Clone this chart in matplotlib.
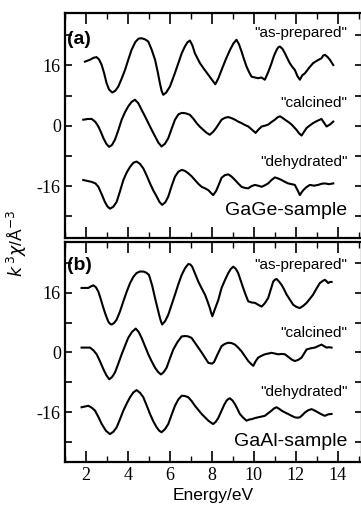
import matplotlib
matplotlib.use("Agg")
import matplotlib.pyplot as plt
from matplotlib.ticker import MultipleLocator, FixedLocator

# ---------------- data ----------------
# Panel (a) GaGe-sample
a_prep_x = [1.95, 2.19, 2.35, 2.5, 2.62, 2.75, 2.87, 2.98, 3.1, 3.25, 3.4, 3.54, 3.7, 3.86, 4.02, 4.17, 4.35, 4.5,
            4.65, 4.82, 4.97, 5.12, 5.29, 5.42, 5.52, 5.6, 5.68, 5.82, 6.0, 6.2, 6.4, 6.56, 6.71, 6.83, 6.95, 7.07,
            7.19, 7.43, 7.63, 7.83, 8.0, 8.16, 8.3, 8.46, 8.66, 8.86, 9.02, 9.17, 9.29, 9.41, 9.53, 9.65, 9.77,
            9.89, 10.05, 10.2, 10.36, 10.52, 10.68, 10.84, 10.96, 11.08, 11.16, 11.24, 11.36, 11.48, 11.6, 11.71,
            11.83, 11.95, 12.07, 12.19, 12.31, 12.43, 12.62, 12.82, 13.02, 13.22, 13.3, 13.38, 13.5, 13.62, 13.7,
            13.78]
a_prep_y = [17.0, 17.5, 18.0, 18.2, 17.6, 16.1, 13.8, 11.3, 9.6, 8.8, 9.3, 10.4, 12.5, 14.8, 17.6, 20.1, 22.2, 23.1,
            23.2, 22.9, 22.3, 20.3, 17.5, 14.2, 11.3, 9.3, 8.2, 8.8, 10.4, 13.4, 16.6, 19.2, 21.0, 22.1, 22.6, 21.3,
            19.2, 16.6, 15.0, 13.5, 12.2, 11.0, 12.5, 14.8, 17.6, 20.1, 21.8, 22.8, 21.6, 19.7, 17.6, 15.7, 14.2,
            13.0, 12.8, 12.6, 12.8, 12.2, 14.2, 16.6, 18.6, 20.1, 20.8, 21.0, 20.4, 19.2, 17.8, 16.6,
            15.6, 14.8, 13.2, 12.2, 13.4, 13.9, 15.3, 16.6, 17.3, 17.9, 18.6, 18.8, 18.3, 17.5, 16.8,
            16.1]

a_calc_x = [1.87, 2.1, 2.27, 2.45, 2.59, 2.72, 2.83, 2.97, 3.1, 3.24, 3.38, 3.54, 3.7, 3.86, 4.01, 4.17, 4.33, 4.49,
            4.65, 4.81, 4.97, 5.13, 5.29, 5.45, 5.6, 5.76, 5.92, 6.08, 6.24, 6.4, 6.56, 6.75, 6.95, 7.11, 7.27, 7.43,
            7.59, 7.75, 7.9, 8.06, 8.2, 8.46, 8.62, 8.78, 8.94, 9.1, 9.25, 9.41, 9.57, 9.73, 9.9, 10.08, 10.22,
            10.37, 10.52, 10.68, 10.84, 11.0, 11.12, 11.24, 11.36, 11.48, 11.64, 11.8, 12.03, 12.15, 12.27, 12.39,
            12.51, 12.67, 12.82, 13.02, 13.22, 13.34, 13.46, 13.62, 13.78]
a_calc_y = [1.6, 1.8, 1.8, 1.0, -0.2, -1.8, -3.3, -4.8, -5.6, -5.1, -3.7, -1.2, 1.6, 3.6, 5.1, 6.3, 6.9, 6.0,
            4.2, 2.5, 0.7, -1.1, -2.8, -4.5, -5.5, -4.8, -3.3, -0.8, 1.6, 3.0, 3.4, 3.3, 2.9, 1.9, 0.7, -0.3,
            -1.1, -1.9, -2.4, -1.6, -0.6, 1.6, 2.1, 2.3, 2.0, 1.6, 1.1, 0.7, 0.2, -0.2, -1.0, -1.9, -1.0,
            -0.2, 0.0, 0.3, 1.0, 1.6, 2.2, 2.5, 2.1, 1.6, 1.0, 0.3, -1.1, -2.0, -2.6, -1.6,
            -0.6, 0.1, 0.7, 1.3, 1.8, 0.8, -0.2, 0.3, 1.1]

a_dehy_x = [1.87, 2.27, 2.45, 2.59, 2.75, 2.9, 3.02, 3.14, 3.3, 3.46, 3.62, 3.78, 3.94, 4.1, 4.26, 4.41, 4.57, 4.73,
            4.89, 5.05, 5.21, 5.37, 5.5, 5.63, 5.78, 5.92, 6.08, 6.24, 6.4, 6.56, 6.72, 6.87, 7.03, 7.19, 7.35,
            7.51, 7.67, 7.83, 7.95, 8.06, 8.2, 8.33, 8.46, 8.62, 8.78, 8.94, 9.1, 9.25, 9.41, 9.57, 9.73, 9.89,
            10.05, 10.2, 10.37, 10.52, 10.68, 10.84, 11.0, 11.16, 11.32, 11.48, 11.63, 11.8, 11.95, 12.07, 12.19,
            12.27, 12.35, 12.5, 12.67, 12.86, 13.06, 13.22, 13.38, 13.58, 13.78]
a_dehy_y = [-14.4, -14.9, -15.3, -16.2, -18.2, -20.2, -21.4, -22.0, -21.5, -20.2, -17.4, -14.4, -12.4, -10.9, -9.8,
            -9.5, -10.1, -11.3, -13.2, -15.3, -17.2, -18.8, -20.2, -21.0, -20.3, -18.8, -16.0, -13.5, -12.2, -11.7,
            -12.0, -12.6, -13.4, -14.4, -15.4, -16.2, -16.6, -17.1, -17.8, -18.4, -17.3, -15.6, -13.8, -13.1,
            -12.9, -13.5, -14.4, -15.3, -16.2, -16.5, -16.6, -16.0, -15.7, -15.9, -16.2, -15.8, -15.3, -14.4,
            -13.7, -14.0, -14.4, -14.9, -15.3, -15.5, -15.7, -17.0, -18.4, -17.7, -17.1, -16.3, -15.7, -15.9,
            -15.7, -15.4, -15.3, -15.5, -15.3]

# Panel (b) GaAl-sample
b_prep_x = [1.79, 2.11, 2.23, 2.35, 2.47, 2.59, 2.71, 2.83, 2.95, 3.06, 3.14, 3.22, 3.34, 3.46, 3.62, 3.78, 3.94, 4.1,
            4.26, 4.41, 4.57, 4.73, 4.87, 5.0, 5.15, 5.29, 5.41, 5.52, 5.58, 5.63, 5.77, 5.92, 6.08, 6.24, 6.4, 6.56,
            6.72, 6.87, 6.97, 7.06, 7.2, 7.35, 7.51, 7.67, 7.79, 7.9, 7.96, 8.02, 8.14, 8.3, 8.46, 8.62, 8.78, 8.9,
            9.02, 9.14, 9.25, 9.37, 9.49, 9.61, 9.73, 9.89, 10.05, 10.2, 10.37, 10.52, 10.68, 10.8, 10.92, 11.0,
            11.08, 11.2, 11.32, 11.44, 11.56, 11.72, 11.87, 12.03, 12.19, 12.35, 12.51, 12.67, 12.82, 12.98, 13.14,
            13.26, 13.38, 13.46, 13.54, 13.62, 13.7]
b_prep_y = [17.3, 17.3, 17.7, 18.0, 17.5, 16.3, 14.2, 11.9, 9.9, 8.3, 7.7, 7.5, 7.9, 8.8, 11.0, 13.7, 16.3, 18.6,
            20.3, 21.3, 21.7, 21.7, 21.4, 20.8, 18.0, 14.6, 11.8, 9.3, 8.2, 7.5, 8.4, 10.1, 12.8, 15.5, 18.3, 20.8,
            22.6, 23.7, 23.6, 23.0, 21.1, 19.0, 17.2, 15.5, 13.7, 11.9, 10.7, 9.7, 11.6, 14.0, 17.3, 19.4, 21.3, 22.4,
            23.0, 22.4, 21.3, 19.3, 17.3, 15.4, 13.7, 13.4, 13.3, 12.8, 12.3, 13.2, 14.6, 16.8, 19.0, 19.5,
            19.7, 19.0, 18.1, 16.9, 15.5, 14.1, 12.8, 12.2, 11.9, 12.5, 13.3, 14.4, 15.5, 17.1, 18.6,
            19.1, 19.5, 19.1, 18.6, 18.9, 18.9]

b_calc_x = [1.79, 2.0, 2.19, 2.35, 2.51, 2.67, 2.83, 2.97, 3.11, 3.24, 3.38, 3.54, 3.7, 3.86, 4.01, 4.19, 4.37, 4.51,
            4.65, 4.81, 4.97, 5.13, 5.29, 5.43, 5.57, 5.7, 5.84, 6.0, 6.16, 6.36, 6.56, 6.72, 6.87, 7.03, 7.19, 7.35,
            7.51, 7.67, 7.83, 8.0, 8.1, 8.26, 8.46, 8.62, 8.78, 8.94, 9.1, 9.25, 9.41, 9.57, 9.73, 9.85, 9.97, 10.08,
            10.2, 10.36, 10.52, 10.68, 10.84, 11.0, 11.16, 11.32, 11.48, 11.64, 11.8, 11.95, 12.11, 12.27, 12.39,
            12.51, 12.7, 12.9, 13.06, 13.22, 13.34, 13.46, 13.58, 13.7]
b_calc_y = [1.3, 1.3, 1.3, 0.6, -0.5, -2.4, -4.5, -6.1, -7.2, -6.6, -5.4, -3.0, -0.5, 1.8, 3.9, 5.5, 6.4, 5.5,
            3.9, 1.7, -0.5, -2.4, -4.1, -5.2, -5.9, -5.3, -4.1, -1.6, 0.8, 2.8, 4.3, 4.4, 4.3, 3.9, 2.6, 1.3,
            0.0, -1.4, -2.8, -3.0, -2.6, -0.6, 1.7, 2.3, 2.6, 2.5, 2.1, 1.3, 0.3, -1.0, -2.3, -3.0, -3.6, -2.4,
            -1.4, -0.9, -0.5, -0.3, -0.1, -0.3, -0.5, -0.4, -0.5, -1.2, -1.9, -2.3, -2.0, -1.4, -0.3,
            0.8, 1.1, 1.3, 1.7, 2.1, 1.7, 1.3, 1.4, 1.3]

b_dehy_x = [1.79, 2.11, 2.27, 2.43, 2.59, 2.75, 2.95, 3.14, 3.3, 3.46, 3.62, 3.78, 3.94, 4.1, 4.26, 4.41, 4.57, 4.73,
            4.89, 5.05, 5.21, 5.37, 5.49, 5.6, 5.76, 5.92, 6.08, 6.24, 6.4, 6.56, 6.72, 6.87, 7.03, 7.19, 7.35, 7.51,
            7.67, 7.83, 7.95, 8.06, 8.18, 8.3, 8.46, 8.58, 8.7, 8.78, 8.86, 8.98, 9.1, 9.22, 9.33, 9.49, 9.65, 9.77,
            9.89, 10.05, 10.2, 10.36, 10.52, 10.68, 10.84, 10.96, 11.08, 11.2, 11.32, 11.48, 11.63, 11.8, 11.95,
            12.07, 12.19, 12.31, 12.43, 12.59, 12.75, 12.9, 13.06, 13.22, 13.38, 13.54, 13.7]
b_dehy_y = [-14.7, -14.3, -14.8, -15.6, -17.3, -19.2, -21.0, -21.9, -21.3, -20.1, -17.9, -15.6, -13.7, -12.0, -10.7,
            -10.1, -10.8, -12.0, -14.2, -16.5, -18.5, -20.1, -21.0, -21.4, -20.6, -19.2, -16.7, -14.3, -12.6, -11.6,
            -11.7, -12.0, -13.0, -14.3, -15.4, -16.5, -17.4, -18.3, -18.8, -19.2, -18.6, -17.6, -15.6, -14.1, -12.9,
            -12.5, -12.3, -12.9, -13.9, -15.2, -16.5, -17.5, -18.3, -18.0, -17.9, -17.6, -17.4, -17.2, -17.0,
            -16.3, -15.6, -15.0, -14.7, -15.1, -15.6, -16.1, -16.5, -17.0, -17.4, -17.5, -17.4, -16.8, -16.1,
            -15.5, -15.2, -15.6, -16.1, -16.6, -17.0, -16.6, -16.5]

curve_labels = ['"as-prepared"', '"calcined"', '"dehydrated"']
label_y_a = [24.7, 6.0, -9.7]
label_y_b = [23.4, 5.2, -10.6]
sample_names = ["GaGe-sample", "GaAl-sample"]
panel_tags = ["(a)", "(b)"]
y_major = [-16, 0, 16]
y_minor = [-24, -8, 8, 24]
x_major = [2, 4, 6, 8, 10, 12, 14]

# ---------------- figure ----------------
W, H = 361, 518
fig = plt.figure(figsize=(W / 100, H / 100), dpi=100)

def px_axes(left, top, right, bottom):
    return fig.add_axes([left / W, 1 - bottom / H, (right - left) / W, (bottom - top) / H])

ax_a = px_axes(65, 13, 362, 237.7)
ax_b = px_axes(65, 241.7, 362, 461.7)

serif = "Liberation Serif"
sans = "Liberation Sans"

panels = [
    (ax_a, [(a_prep_x, a_prep_y), (a_calc_x, a_calc_y), (a_dehy_x, a_dehy_y)], label_y_a, (-29.7, 29.9), -22.4, 23.0),
    (ax_b, [(b_prep_x, b_prep_y), (b_calc_x, b_calc_y), (b_dehy_x, b_dehy_y)], label_y_b, (-29.3, 29.7), -24.0, 23.3),
]

for i, (ax, curves, ly, ylim, sample_y, tag_y) in enumerate(panels):
    for (xs, ys) in curves:
        ax.plot(xs, ys, color="black", lw=1.5, solid_joinstyle="round")
    ax.set_xlim(1.0, 15.15)
    ax.set_ylim(*ylim)
    ax.xaxis.set_major_locator(FixedLocator(x_major))
    ax.xaxis.set_minor_locator(MultipleLocator(1))
    ax.yaxis.set_major_locator(FixedLocator(y_major))
    ax.yaxis.set_minor_locator(FixedLocator(y_minor))
    ax.tick_params(axis="x", which="major", direction="in", length=8, width=1.2, top=True, bottom=True, pad=4)
    ax.tick_params(axis="x", which="minor", direction="in", length=4.5, width=1.0, top=True, bottom=True)
    ax.tick_params(axis="y", which="both", direction="in", length=5, width=1.2, left=True, right=True, pad=3)
    for sp in ax.spines.values():
        sp.set_linewidth(1.6)
    ax.set_yticklabels([str(v) for v in y_major], fontfamily=serif, fontsize=13)
    if i == 0:
        ax.set_xticklabels([])
    else:
        ax.set_xticklabels([str(v) for v in x_major], fontfamily=serif, fontsize=13)
        ax.set_xlabel("Energy/eV", fontfamily=sans, fontsize=12.5, labelpad=3)
    for txt, yv in zip(curve_labels, ly):
        ax.text(14.45, yv, txt, ha="right", va="center", fontfamily=sans, fontsize=11)
    ax.text(14.45, sample_y, sample_names[i], ha="right", va="center", fontfamily=sans, fontsize=14)
    ax.text(1.1, tag_y, panel_tags[i], ha="left", va="center",
            fontfamily=sans, fontsize=14, fontweight="bold")

fig.text(17 / W, 1 - 243 / H, r"$k^{\,3}\chi$/Å$^{-3}$", rotation=90, ha="center", va="center",
         fontfamily=sans, fontsize=12.5)

fig.savefig("out.png", dpi=100)
